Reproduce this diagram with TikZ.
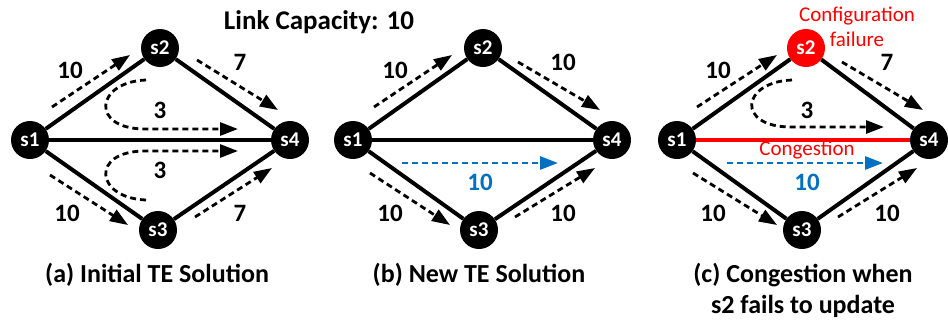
\documentclass[tikz,border=0pt]{standalone}
\usepackage{fontspec}
\setmainfont{Carlito}
\usetikzlibrary{arrows.meta}
\definecolor{msblue}{RGB}{0,112,192}
\definecolor{msred}{RGB}{255,0,0}
\tikzset{
  sw/.style={circle,fill=black,minimum size=38pt,inner sep=0pt,text=white,font=\bfseries\fontsize{21}{21}\selectfont},
  link/.style={line width=4pt},
  flow/.style={line width=2.8pt,dash pattern=on 6pt off 4pt,-{Triangle[length=18pt,width=13pt]}},
  lbl/.style={font=\bfseries\fontsize{25}{25}\selectfont},
  capt/.style={font=\bfseries\fontsize{26}{31}\selectfont,align=center,anchor=base},
  note/.style={text=msred,font=\fontsize{21}{25}\selectfont,align=center},
}
\begin{document}
\begin{tikzpicture}[x=1pt,y=-1pt]
\useasboundingbox (0,0) rectangle (948,325);
\node[font=\bfseries\fontsize{27}{27}\selectfont] (title) at (319,22) {Link Capacity: 10};
% ---------- panel a ----------
\node[sw] (a1) at (30,140) {s1};
\node[sw] (a2) at (160,48) {s2};
\node[sw] (a3) at (158,230) {s3};
\node[sw] (a4) at (290,140) {s4};
\draw[link] (a1) -- (a2);
\draw[link] (a2) -- (a4);
\draw[link] (a1) -- (a3);
\draw[link] (a3) -- (a4);
\draw[link] (a1) -- (a4);
\draw[flow] (52,107) -- (130,55);
\draw[flow] (197,60) -- (278,110);
\draw[flow] (50,175) -- (128,225);
\draw[flow] (195,217) -- (272,168);
\draw[flow] (146,80) .. controls (95,82) and (90,129) .. (145,129) -- (238,129);
\draw[flow] (146,200) .. controls (95,198) and (90,151) .. (145,151) -- (238,151);
\node[lbl] (la1) at (70,70) {10};
\node[lbl] (la2) at (240,62) {7};
\node[lbl] (la3) at (160,110) {3};
\node[lbl] (la4) at (160,170) {3};
\node[lbl] (la5) at (67,213) {10};
\node[lbl] (la6) at (240,213) {7};
\node[capt] (capa) at (157,282) {(a) Initial TE Solution};
% ---------- panel b ----------
\node[sw] (b1) at (353,140) {s1};
\node[sw] (b2) at (483,48) {s2};
\node[sw] (b3) at (479,230) {s3};
\node[sw] (b4) at (612,140) {s4};
\draw[link] (b1) -- (b2);
\draw[link] (b2) -- (b4);
\draw[link] (b1) -- (b3);
\draw[link] (b3) -- (b4);
\draw[link] (b1) -- (b4);
\draw[flow] (374,107) -- (452,55);
\draw[flow] (518,62) -- (600,110);
\draw[flow] (370,173) -- (450,225);
\draw[flow] (515,217) -- (595,168);
\draw[flow,msblue] (402,163) -- (558,163);
\node[lbl] (lb1) at (395,70) {10};
\node[lbl] (lb2) at (563,62) {10};
\node[lbl] (lb3) at (390,213) {10};
\node[lbl] (lb4) at (563,213) {10};
\node[lbl,text=msblue] (lb5) at (480,182) {10};
\node[capt] (capb) at (479,282) {(b) New TE Solution};
% ---------- panel c ----------
\node[sw] (c1) at (677,140) {s1};
\node[sw,fill=msred] (c2) at (806,48) {s2};
\node[sw] (c3) at (802,230) {s3};
\node[sw] (c4) at (929,140) {s4};
\draw[link] (c1) -- (c2);
\draw[link] (c2) -- (c4);
\draw[link] (c1) -- (c3);
\draw[link] (c3) -- (c4);
\draw[link,msred] (c1) -- (c4);
\draw[flow] (697,107) -- (777,55);
\draw[flow] (842,62) -- (923,110);
\draw[flow] (693,173) -- (777,225);
\draw[flow] (838,217) -- (917,168);
\draw[flow] (792,80) .. controls (741,82) and (736,127) .. (791,127) -- (884,127);
\draw[flow,msblue] (727,163) -- (883,163);
\node[lbl] (lc1) at (718,70) {10};
\node[lbl] (lc2) at (887,62) {7};
\node[lbl] (lc3) at (807,110) {3};
\node[lbl] (lc4) at (713,213) {10};
\node[lbl] (lc5) at (887,213) {10};
\node[lbl,text=msblue] (lc6) at (807,182) {10};
\node[note] (cong) at (807,150) {Congestion};
\node[note] (fail) at (857,27) {Configuration\\failure};
\node[capt] (capc) at (803,313) {(c) Congestion when\\s2 fails to update};
\end{tikzpicture}
\end{document}
